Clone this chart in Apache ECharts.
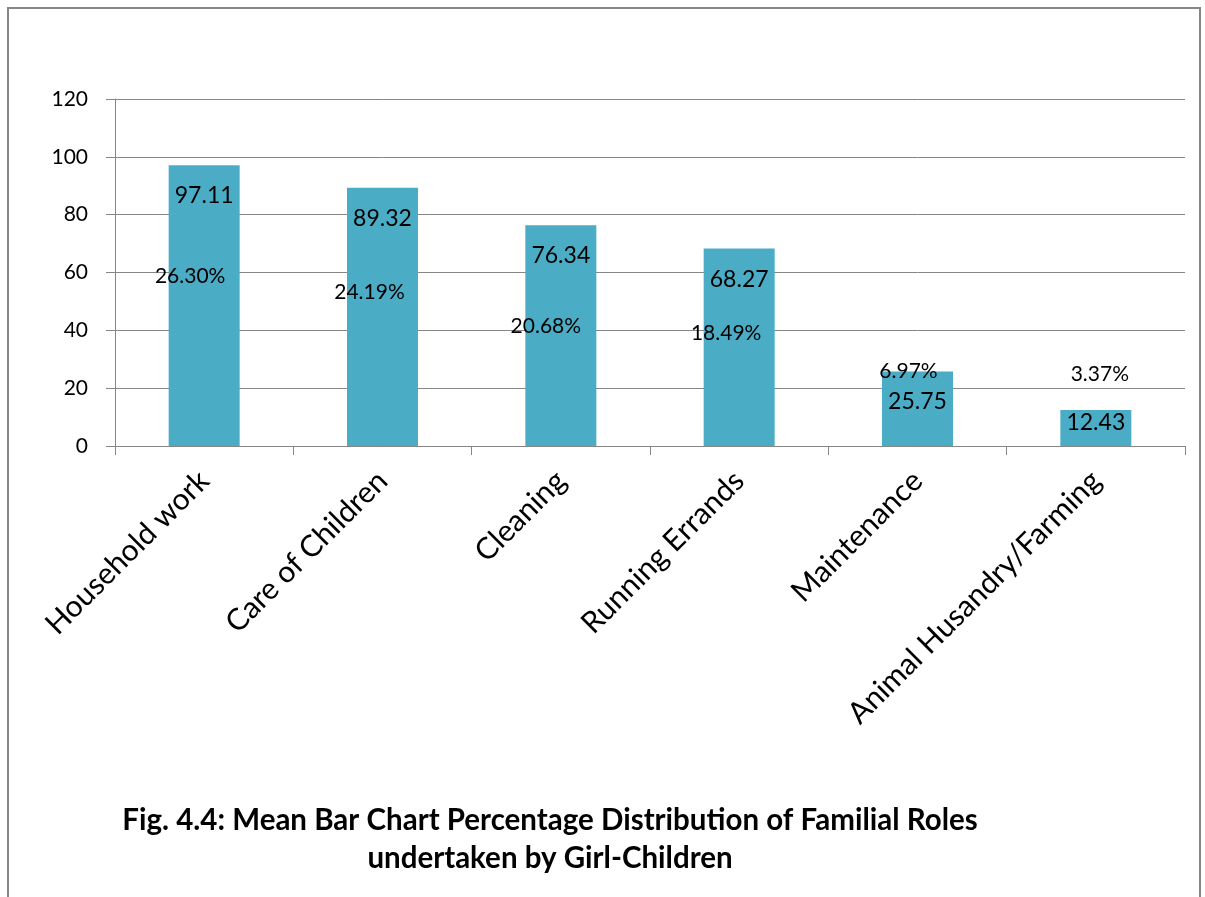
<!DOCTYPE html>
<html>
<head>
<meta charset="utf-8">
<script src="https://cdn.jsdelivr.net/npm/echarts@6/dist/echarts.min.js"></script>
<style>
html,body{margin:0;padding:0;background:#fff;}
#chart{width:1205px;height:897px;}
</style>
</head>
<body>
<div id="chart"></div>
<script>
// ---- data ----
var categories = ['Household work', 'Care of Children', 'Cleaning', 'Running Errands', 'Maintenance', 'Animal Husandry/Farming'];
var meanValues = [97.11, 89.32, 76.34, 68.27, 25.75, 12.43];
var percentLabels = ['26.30%', '24.19%', '20.68%', '18.49%', '6.97%', '3.37%'];
var yTicks = [0, 20, 40, 60, 80, 100, 120];
var titleLines = ['Fig. 4.4: Mean Bar Chart Percentage Distribution of Familial Roles', 'undertaken by Girl-Children'];

// ---- layout (label placement, not data) ----
var valueLabelDist = [19, 19, 19, 19, 19, 1];
var pctOffsets = [[-14, 100], [-13, 94], [-15, 90], [-13, 74], [-9, -11], [4, -47]];

var FONT = 'Lato';
var chart = echarts.init(document.getElementById('chart'), null, {renderer: 'canvas'});

var barData = meanValues.map(function (v, i) {
  return {value: v, label: {distance: valueLabelDist[i]}};
});
var pctData = meanValues.map(function (v, i) {
  return {value: v, label: {offset: pctOffsets[i]}};
});

var option = {
  backgroundColor: '#ffffff',
  animation: false,
  title: {
    text: titleLines.join('\n'),
    left: 545,
    top: 796,
    textAlign: 'center',
    textStyle: {fontFamily: FONT, fontWeight: 'bold', fontSize: 29.5, lineHeight: 38, color: '#000'}
  },
  graphic: [{
    type: 'rect',
    shape: {x: 8, y: 8, width: 1192, height: 920},
    style: {fill: 'none', stroke: '#868686', lineWidth: 2},
    silent: true
  }],
  grid: {left: 115, right: 20, top: 99, bottom: 451, containLabel: false},
  xAxis: {
    type: 'category',
    data: categories,
    axisLine: {show: true, lineStyle: {color: '#868686', width: 1}},
    axisTick: {show: true, length: 9, alignWithLabel: false, lineStyle: {color: '#868686'}},
    axisLabel: {
      rotate: 45, interval: 0, margin: 30,
      fontFamily: FONT, fontSize: 30, color: '#000'
    },
    splitLine: {show: false}
  },
  yAxis: {
    type: 'value',
    min: yTicks[0],
    max: yTicks[yTicks.length - 1],
    interval: yTicks[1] - yTicks[0],
    axisLine: {show: true, lineStyle: {color: '#868686', width: 1}},
    axisTick: {show: true, length: 9, lineStyle: {color: '#868686'}},
    axisLabel: {margin: 27, fontFamily: FONT, fontSize: 21, color: '#000'},
    splitLine: {show: true, lineStyle: {color: '#868686', width: 1}}
  },
  series: [{
    type: 'bar',
    data: barData,
    barWidth: 71,
    itemStyle: {color: '#4BACC6'},
    label: {
      show: true, position: 'insideTop',
      fontFamily: FONT, fontSize: 23, color: '#000'
    },
    z: 2
  }, {
    type: 'bar',
    data: pctData,
    barWidth: 71,
    barGap: '-100%',
    itemStyle: {color: 'rgba(0,0,0,0)'},
    label: {
      show: true, position: 'insideTop', distance: 0,
      fontFamily: FONT, fontSize: 21, lineHeight: 22, color: '#000',
      formatter: function (p) { return percentLabels[p.dataIndex]; }
    },
    z: 3
  }]
};
chart.setOption(option);
</script>
</body>
</html>
